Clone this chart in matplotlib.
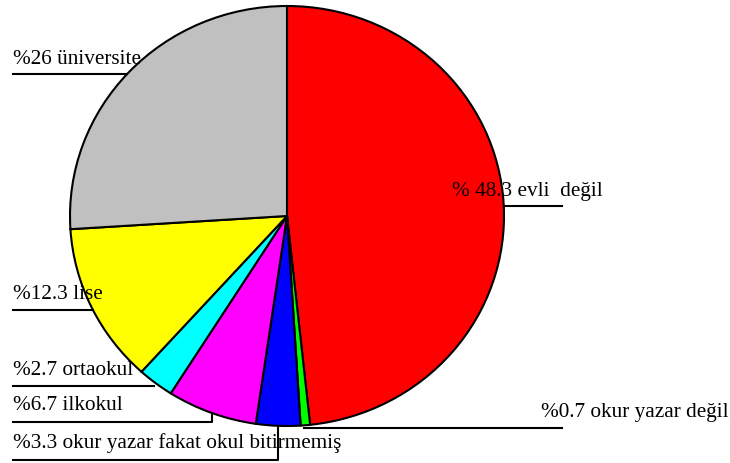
import numpy as np
import matplotlib.pyplot as plt

# --- data ---
labels = ["% 48.3 evli  değil", "%0.7 okur yazar değil",
          "%3.3 okur yazar fakat okul bitirmemiş", "%6.7 ilkokul",
          "%2.7 ortaokul", "%12.3 lise", "%26 üniversite"]
values = [48.3, 0.7, 3.3, 6.7, 2.7, 12.3, 26]
colors = ["#FF0000", "#00FF00", "#0000FF", "#FF00FF", "#00FFFF", "#FFFF00", "#C0C0C0"]

W, H = 730, 464
cx, cy, rx, ry = 287, 217, 217, 210   # pie centre / radii in pixels (from top-left)

plt.rcParams['font.family'] = ['Liberation Serif', 'DejaVu Serif']

fig = plt.figure(figsize=(W / 100, H / 100), dpi=100)
ax = fig.add_axes([(cx - rx) / W, (H - cy - ry) / H, 2 * rx / W, 2 * ry / H])
ax.pie(values, colors=colors, startangle=90, counterclock=False, radius=1,
       wedgeprops=dict(edgecolor='black', linewidth=1.5))
ax.set_aspect('auto')
ax.set_xlim(-1, 1)
ax.set_ylim(-1, 1)
ax.axis('off')

# overlay in pixel coordinates for labels and leader lines
ov = fig.add_axes([0, 0, 1, 1])
ov.set_xlim(0, W)
ov.set_ylim(H, 0)
ov.axis('off')


def edge_x(y, side):
    d = min(abs(cy - y) / ry, 1.0)
    return cx + side * rx * np.sqrt(1 - d ** 2)


def edge_y(x):
    d = min(abs(x - cx) / rx, 1.0)
    return cy + ry * np.sqrt(1 - d ** 2)


lw = 1.5
fs = 15.3

# universite
ov.text(13, 59, labels[6], fontsize=fs, va='center', ha='left')
ov.plot([13, edge_x(75, -1)], [75, 75], color='black', lw=lw)

# evli degil
ov.text(452, 192, labels[0], fontsize=fs, va='center', ha='left')
ov.plot([edge_x(207, 1), 562], [207, 207], color='black', lw=lw)

# lise
ov.text(13, 295, labels[5], fontsize=fs, va='center', ha='left')
ov.plot([13, edge_x(311, -1)], [311, 311], color='black', lw=lw)

# ortaokul
ov.text(13, 371, labels[4], fontsize=fs, va='center', ha='left')
ov.plot([13, 154], [387, 387], color='black', lw=lw)

# ilkokul
ov.text(13, 406, labels[3], fontsize=fs, va='center', ha='left')
ov.plot([13, 212, 212], [423, 423, edge_y(212)], color='black', lw=lw)

# okur yazar fakat
ov.text(13, 443, labels[2], fontsize=fs, va='center', ha='left')
ov.plot([13, 278, 278], [461, 461, edge_y(278)], color='black', lw=lw)

# okur yazar degil
ov.text(541, 413, labels[1], fontsize=fs, va='center', ha='left')
ov.plot([304, 562], [429, 429], color='black', lw=lw)

fig.savefig("out.png", dpi=100)
